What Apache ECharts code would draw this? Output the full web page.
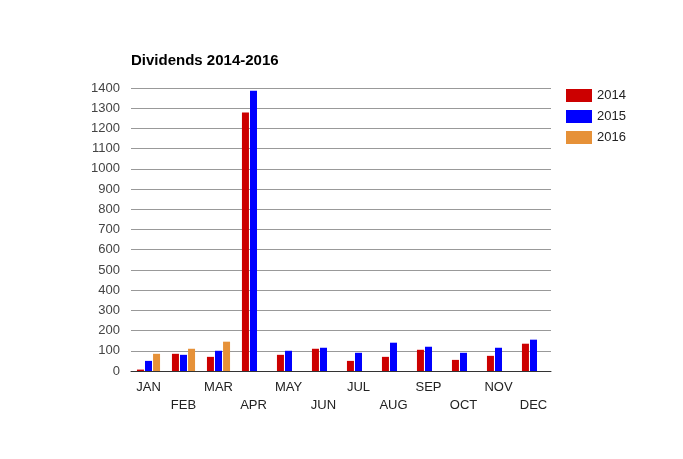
<!DOCTYPE html>
<html>
<head>
<meta charset="utf-8">
<script src="https://cdn.jsdelivr.net/npm/echarts@6/dist/echarts.min.js"></script>
<style>
  html, body { margin: 0; padding: 0; background: #fff; }
  #chart { width: 683px; height: 459px; }
</style>
</head>
<body>
<div id="chart"></div>
<script>
// months on the x axis
var months = ['JAN', 'FEB', 'MAR', 'APR', 'MAY', 'JUN', 'JUL', 'AUG', 'SEP', 'OCT', 'NOV', 'DEC'];
// dividends per year
var div2014 = [7, 85, 70, 1279, 80, 110, 50, 70, 105, 55, 75, 135];
var div2015 = [50, 80, 100, 1386, 100, 115, 90, 140, 120, 90, 115, 155];
var div2016 = [85, 110, 145, null, null, null, null, null, null, null, null, null];

var chart = echarts.init(document.getElementById('chart'));

function bar(name, data, color) {
    return {
        name: name,
        type: 'bar',
        data: data,
        barWidth: 7,
        barGap: '15%',
        itemStyle: { color: color },
        animation: false
    };
}

var option = {
    animation: false,
    textStyle: { fontFamily: 'Liberation Sans, Arial, sans-serif' },
    title: {
        text: 'Dividends 2014-2016',
        left: 126,
        top: 48,
        textStyle: { fontSize: 15, fontWeight: 'bold', color: '#000' }
    },
    legend: {
        orient: 'vertical',
        left: 561,
        top: 84,
        itemWidth: 26,
        itemHeight: 13,
        itemGap: 8,
        icon: 'rect',
        textStyle: { fontSize: 13, color: '#222' },
        data: ['2014', '2015', '2016']
    },
    grid: { left: 131, right: 132, top: 88, bottom: 88 },
    xAxis: {
        type: 'category',
        data: months,
        axisTick: { show: false },
        axisLine: { lineStyle: { color: '#333', width: 1 } },
        axisLabel: {
            interval: 0,
            margin: 7,
            fontSize: 13,
            color: '#222',
            lineHeight: 18,
            formatter: function (v, i) {
                return i % 2 === 1 ? '\n' + v : v;
            }
        }
    },
    yAxis: {
        type: 'value',
        min: 0,
        max: 1400,
        interval: 100,
        axisLine: { show: false },
        axisTick: { show: false },
        axisLabel: {
            fontSize: 13,
            color: '#444',
            margin: 11,
            formatter: function (v) { return String(v); }
        },
        splitLine: { lineStyle: { color: '#999' } }
    },
    series: [
        bar('2014', div2014, '#cc0000'),
        bar('2015', div2015, '#0000ff'),
        bar('2016', div2016, '#e69138')
    ]
};

chart.setOption(option);
</script>
</body>
</html>
